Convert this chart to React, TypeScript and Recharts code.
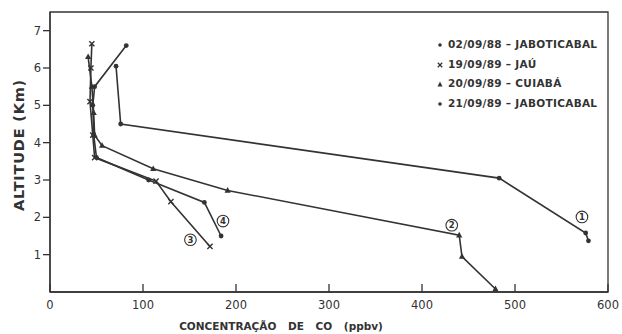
import React from "react";
import { LineChart, Line, XAxis, YAxis, ReferenceArea, ReferenceDot } from "recharts";

const INK = "#333333";

const coTicks = [0, 100, 200, 300, 400, 500, 600];
const altTicks = [1, 2, 3, 4, 5, 6, 7];

// each sounding: CO (ppbv) and altitude (km), in flight order
const jab88Co = [71, 76, 483, 576, 579];
const jab88Alt = [6.05, 4.5, 3.05, 1.58, 1.37];

const jauCo = [45, 44, 43, 46, 48, 114, 130, 172];
const jauAlt = [6.65, 6.0, 5.1, 4.2, 3.6, 2.97, 2.42, 1.22];

const cuiabaCo = [41, 45, 47, 48, 56, 111, 191, 440, 443, 479];
const cuiabaAlt = [6.3, 5.5, 4.8, 4.2, 3.92, 3.3, 2.72, 1.52, 0.95, 0.08];

const jab89Co = [82, 48, 46, 47, 50, 106, 166, 184];
const jab89Alt = [6.6, 5.5, 5.0, 4.2, 3.6, 3.0, 2.4, 1.5];

// circled profile numbers next to the low end of each curve
const tagNames = ["1", "2", "3", "4"];
const tagCo = [572, 432, 151, 186];
const tagAlt = [2.01, 1.79, 1.4, 1.9];

const zip = (co: number[], alt: number[]) => co.map((c, i) => ({ co: c, alt: alt[i] }));

const DotMark = (p: any) => <circle key={p.index} cx={p.cx} cy={p.cy} r={2.4} fill={INK} />;
const CrossMark = (p: any) => (
  <path
    key={p.index}
    d={`M${p.cx - 2.6},${p.cy - 2.6}L${p.cx + 2.6},${p.cy + 2.6}M${p.cx - 2.6},${p.cy + 2.6}L${p.cx + 2.6},${p.cy - 2.6}`}
    stroke={INK}
    strokeWidth={1.4}
  />
);
const TriMark = (p: any) => (
  <path key={p.index} d={`M${p.cx},${p.cy - 3.4}L${p.cx + 3.1},${p.cy + 2.2}L${p.cx - 3.1},${p.cy + 2.2}Z`} fill={INK} />
);

const series = [
  { name: "02/09/88 – JABOTICABAL", data: zip(jab88Co, jab88Alt), mark: DotMark, glyph: "dot" },
  { name: "19/09/89 – JAÚ", data: zip(jauCo, jauAlt), mark: CrossMark, glyph: "cross" },
  { name: "20/09/89 – CUIABÁ", data: zip(cuiabaCo, cuiabaAlt), mark: TriMark, glyph: "tri" },
  { name: "21/09/89 – JABOTICABAL", data: zip(jab89Co, jab89Alt), mark: DotMark, glyph: "dot" },
];

const XTick = (p: any) => (
  <g>
    <line x1={p.x} y1={p.y} x2={p.x} y2={p.y - 8} stroke={INK} strokeWidth={1.3} />
    <text x={p.x} y={p.y + 17} textAnchor="middle" fontSize={11.5} fill={INK} fontFamily="DejaVu Sans">
      {p.payload.value}
    </text>
  </g>
);

const XTitle = (p: any) => {
  const vb = p.viewBox;
  return (
    <text
      x={vb.x + 231}
      y={vb.y + 38}
      textAnchor="middle"
      fontSize={10.5}
      fontWeight="bold"
      fill={INK}
      fontFamily="DejaVu Sans"
      style={{ wordSpacing: 8 }}
    >
      CONCENTRAÇÃO DE CO (ppbv)
    </text>
  );
};

const YTitle = (p: any) => {
  const vb = p.viewBox;
  const cx = vb.x + 19;
  const cy = vb.y + vb.height / 2 - 7;
  return (
    <text
      x={cx}
      y={cy}
      transform={`rotate(-90 ${cx} ${cy})`}
      textAnchor="middle"
      dominantBaseline="central"
      fontSize={14.5}
      fontWeight="bold"
      fill={INK}
      fontFamily="DejaVu Sans"
      style={{ letterSpacing: 0.8 }}
    >
      ALTITUDE (Km)
    </text>
  );
};

const LegendGlyph = ({ kind }: { kind: string }) => (
  <svg width={8} height={8} style={{ marginRight: 4 }}>
    {kind === "dot" && <circle cx={4} cy={4} r={1.8} fill={INK} />}
    {kind === "cross" && <path d="M1.8,1.8L6.2,6.2M1.8,6.2L6.2,1.8" stroke={INK} strokeWidth={1.3} />}
    {kind === "tri" && <path d="M4,1.5L6.5,6.5L1.5,6.5Z" fill={INK} />}
  </svg>
);

export default function App() {
  return (
    <div style={{ position: "absolute", left: 0, top: 0, width: 622, height: 334, background: "#fff" }}>
      <LineChart width={622} height={334} margin={{ top: 12, right: 14, bottom: 0, left: 0 }}>
        <XAxis
          dataKey="co"
          type="number"
          domain={[0, 600]}
          ticks={coTicks}
          tickLine={false}
          tickSize={0}
          tickMargin={0}
          tick={<XTick />}
          height={42}
          axisLine={{ stroke: INK, strokeWidth: 1.3 }}
          label={<XTitle />}
        />
        <YAxis
          dataKey="alt"
          type="number"
          domain={[0, 7.5]}
          ticks={altTicks}
          width={50}
          tickSize={7}
          tickMargin={2}
          tickLine={{ stroke: INK, strokeWidth: 1.3 }}
          tick={{ fontSize: 11.5, fill: INK, fontFamily: "DejaVu Sans" }}
          axisLine={{ stroke: INK, strokeWidth: 1.3 }}
          label={<YTitle />}
        />
        <ReferenceArea x1={0} x2={600} y1={0} y2={7.5} fill="none" stroke={INK} strokeWidth={1.3} />
        {series.map((s) => (
          <Line
            key={s.name}
            data={s.data}
            dataKey="alt"
            type="linear"
            stroke={INK}
            strokeWidth={1.6}
            dot={s.mark}
            activeDot={false}
            isAnimationActive={false}
          />
        ))}
        {tagNames.map((t, i) => (
          <ReferenceDot
            key={t}
            x={tagCo[i]}
            y={tagAlt[i]}
            r={5.8}
            fill="#fff"
            stroke={INK}
            strokeWidth={1.1}
            label={{ value: t, position: "center", fontSize: 8.5, fontWeight: "bold", fill: INK, fontFamily: "DejaVu Sans" }}
          />
        ))}
      </LineChart>
      <div
        style={{
          position: "absolute",
          left: 436,
          top: 35,
          fontFamily: "DejaVu Sans",
          fontWeight: "bold",
          fontSize: 10.5,
          letterSpacing: 0.3,
          color: INK,
          lineHeight: "19.7px",
          whiteSpace: "nowrap",
        }}
      >
        {series.map((s) => (
          <div key={s.name} style={{ display: "flex", alignItems: "center", height: 19.7 }}>
            <LegendGlyph kind={s.glyph} />
            {s.name}
          </div>
        ))}
      </div>
    </div>
  );
}
